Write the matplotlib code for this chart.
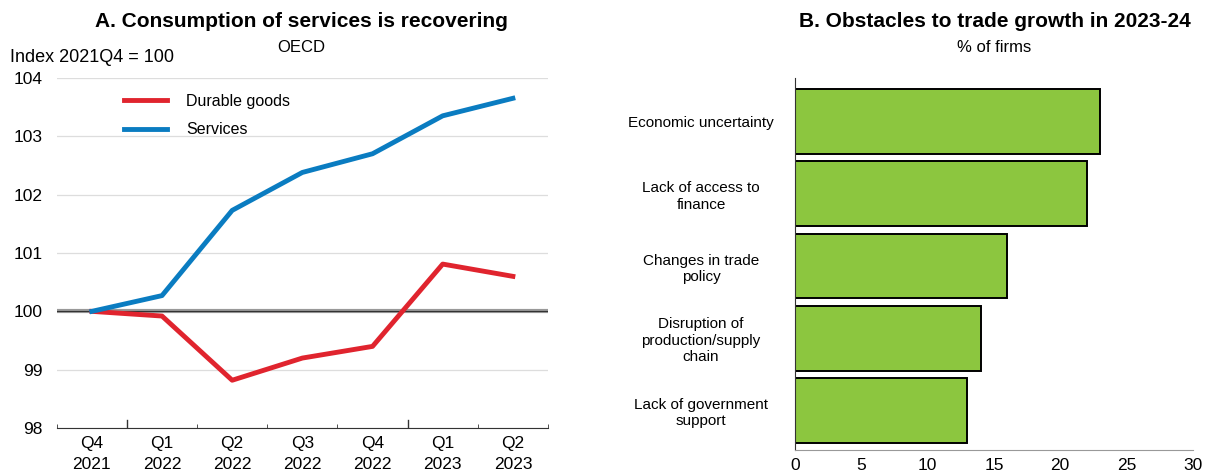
import matplotlib.pyplot as plt
import numpy as np

plt.rcParams['font.family'] = ['Liberation Sans', 'DejaVu Sans']

quarters = ["Q4\n2021", "Q1\n2022", "Q2\n2022", "Q3\n2022", "Q4\n2022", "Q1\n2023", "Q2\n2023"]
durable = [100.0, 99.92, 98.82, 99.2, 99.4, 100.81, 100.6]
services = [100.0, 100.27, 101.73, 102.38, 102.7, 103.35, 103.65]

obstacles = ["Economic uncertainty", "Lack of access to\nfinance", "Changes in trade\npolicy",
             "Disruption of\nproduction/supply\nchain", "Lack of government\nsupport"]
shares = [23, 22, 16, 14, 13]

red = "#E0242E"
blue = "#0A7CC1"
green = "#8CC63F"

fig = plt.figure(figsize=(12.07, 4.72), dpi=100)

# panel A
ax1 = fig.add_axes([0.047, 0.093, 0.407, 0.742])
x = np.arange(len(quarters))
ax1.set_xlim(-0.5, len(quarters) - 0.5)
ax1.set_ylim(98, 104)
for v in range(98, 105):
    ax1.axhline(v, color="#DDDDDD", lw=0.9, zorder=0)
ax1.axhline(100, color="#999999", lw=3, zorder=1)
ax1.axhline(100, color="#333333", lw=0.8, zorder=1)
ax1.plot(x, durable, color=red, lw=3.5, label="Durable goods", zorder=3)
ax1.plot(x, services, color=blue, lw=3.5, label="Services", zorder=3)

for s in ["left", "top", "right"]:
    ax1.spines[s].set_visible(False)
ax1.spines["bottom"].set_color("#333333")
ax1.set_xticks(x)
ax1.set_xticklabels(quarters, linespacing=1.45)
ax1.tick_params(axis="x", length=0, labelsize=12.5, pad=6)
ax1.set_xticks([-0.5, 1.5, 2.5, 3.5, 5.5, 6.5], minor=True)
ax1.tick_params(axis="x", which="minor", direction="in", length=3, color="#333333")
for xb in [0.5, 4.5]:
    ax1.axvline(xb, ymin=0, ymax=0.023, color="#333333", lw=1)
ax1.set_yticks(range(98, 105))
ax1.tick_params(axis="y", length=0, labelsize=12.5, pad=10)
ax1.legend(loc="upper left", bbox_to_anchor=(0.136, 0.955), frameon=False, fontsize=11.5,
           handlelength=2.7, handletextpad=1.2, labelspacing=0.85, borderpad=0,
           borderaxespad=0)

fig.text(0.25, 0.955, "A. Consumption of services is recovering", ha="center", va="center",
         fontsize=15, fontweight="bold")
fig.text(0.25, 0.9, "OECD", ha="center", va="center", fontsize=12)
fig.text(0.008, 0.878, "Index 2021Q4 = 100", ha="left", va="center", fontsize=13)

# panel B
ax2 = fig.add_axes([0.659, 0.047, 0.329, 0.788])
y = np.arange(len(obstacles))
ax2.barh(y, shares, height=0.9, color=green, edgecolor="black", lw=1.4, zorder=2)
ax2.set_ylim(len(obstacles) - 0.45, -0.61)
ax2.set_xlim(0, 30)
ax2.set_xticks(range(0, 31, 5))
ax2.set_yticks(y)
ax2.set_yticklabels(obstacles, ha="center")
ax2.tick_params(axis="y", length=0, labelsize=11, pad=68)
ax2.tick_params(axis="x", length=0, labelsize=12.5, pad=6)
for s in ["top", "right"]:
    ax2.spines[s].set_visible(False)
ax2.spines["bottom"].set_color("#999999")
ax2.spines["left"].set_color("#333333")

fig.text(0.824, 0.955, "B. Obstacles to trade growth in 2023-24", ha="center", va="center",
         fontsize=15, fontweight="bold")
fig.text(0.824, 0.9, "% of firms", ha="center", va="center", fontsize=12)

fig.savefig("out.png", dpi=100)
